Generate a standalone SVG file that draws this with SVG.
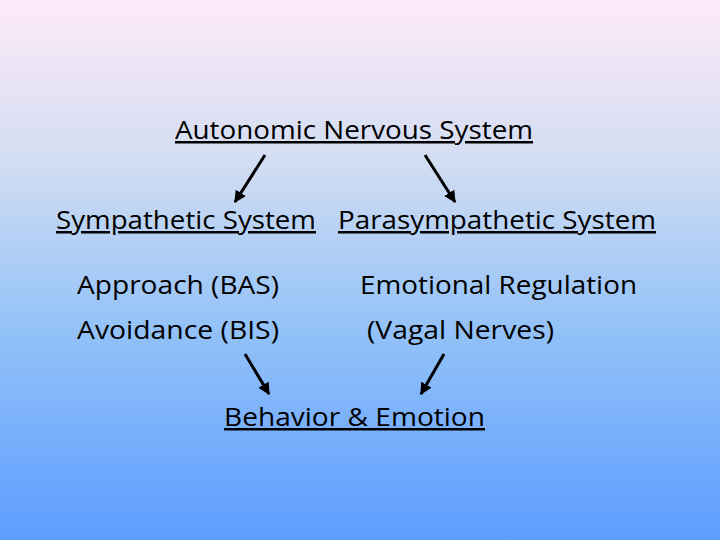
<svg xmlns="http://www.w3.org/2000/svg" width="720" height="540" viewBox="0 0 720 540">
<defs>
<linearGradient id="bg" x1="0" y1="0" x2="0" y2="1">
<stop offset="0" stop-color="#FEEAF8"/>
<stop offset="0.3" stop-color="#D2DDF2"/>
<stop offset="0.6" stop-color="#95C3F8"/>
<stop offset="1" stop-color="#5D9DFF"/>
</linearGradient>
<marker id="ah" viewBox="0 0 10 10" refX="9" refY="5" markerWidth="4" markerHeight="4" orient="auto" markerUnits="strokeWidth">
<path d="M0,0 L10,5 L0,10 z" fill="#000"/>
</marker>
<style>
.t{font-family:"Open Sans","Liberation Sans",sans-serif;font-size:25px;fill:#000;}
.u{text-decoration:underline;}
.c{stroke:#000;stroke-width:3;fill:none;marker-end:url(#ah);}
</style>
</defs>
<rect width="720" height="540" fill="url(#bg)"/>
<g id="ans"><text class="t u" x="175" y="139" textLength="358" lengthAdjust="spacingAndGlyphs">Autonomic Nervous System</text></g>
<g id="sympathetic"><text class="t u" x="56" y="229" textLength="260" lengthAdjust="spacingAndGlyphs">Sympathetic System</text></g>
<g id="parasympathetic"><text class="t u" x="338" y="229" textLength="318" lengthAdjust="spacingAndGlyphs">Parasympathetic System</text></g>
<g id="approach">
<text class="t" x="77" y="294" textLength="202" lengthAdjust="spacingAndGlyphs">Approach (BAS)</text>
<text class="t" x="77" y="339" textLength="202" lengthAdjust="spacingAndGlyphs">Avoidance (BIS)</text>
</g>
<g id="emotional">
<text class="t" x="360" y="294" textLength="277" lengthAdjust="spacingAndGlyphs">Emotional Regulation</text>
<text class="t" x="367" y="339" textLength="187" lengthAdjust="spacingAndGlyphs">(Vagal Nerves)</text>
</g>
<g id="behavior"><text class="t u" x="224" y="426" textLength="261" lengthAdjust="spacingAndGlyphs">Behavior &amp; Emotion</text></g>
<g id="connectors">
<line class="c" x1="265" y1="155" x2="235" y2="202"/>
<line class="c" x1="425" y1="155" x2="455" y2="202"/>
<line class="c" x1="245" y1="354" x2="269" y2="394"/>
<line class="c" x1="444" y1="354" x2="421" y2="394"/>
</g>
</svg>
